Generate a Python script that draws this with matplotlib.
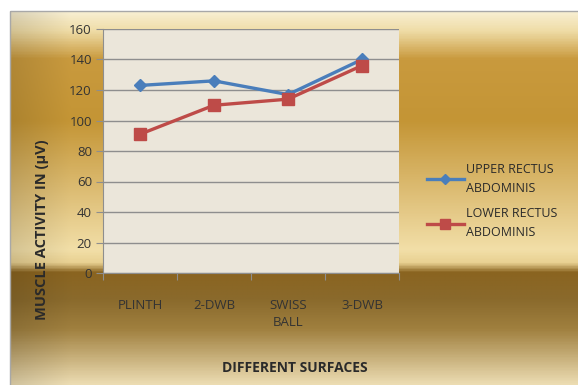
import numpy as np
import matplotlib
matplotlib.use("Agg")
import matplotlib.pyplot as plt
from matplotlib.colors import LinearSegmentedColormap, to_rgb
from matplotlib.patches import Rectangle

surfaces = ["PLINTH", "2-DWB", "SWISS\nBALL", "3-DWB"]
upper_rectus = [123, 126, 117, 140]
lower_rectus = [91, 110, 114, 136]
y_ticks = [0, 20, 40, 60, 80, 100, 120, 140, 160]

plt.rcParams['font.family'] = ['Open Sans', 'DejaVu Sans']

W, H = 578, 385
fig = plt.figure(figsize=(W / 100, H / 100), dpi=100)
fig.patch.set_facecolor("white")

# gold gradient background (chart area) - stops in pixel rows from top
stops = [(11, "#f8efd2"), (30, "#efdca6"), (58, "#c99a3e"), (120, "#c49535"),
         (200, "#e0c27c"), (250, "#f2dfa8"), (263, "#e9d192"), (273, "#8a6420"),
         (300, "#8a6a2c"), (330, "#a0803f"), (385, "#ecdcb2")]
pos = [(y - 11) / (385 - 11) for y, _ in stops]
cmap = LinearSegmentedColormap.from_list("gold", list(zip(pos, [c for _, c in stops])))
bg = fig.add_axes([0, 0, 1, 1], zorder=0)
bg.set_xlim(0, W)
bg.set_ylim(H, 0)
bg.axis("off")
rows = cmap(np.linspace(0, 1, 400))[:, :3]
# a little darker towards the left edge
cols = 1 - 0.12 * np.clip(1 - np.linspace(0, W - 10, 300) / 60, 0, 1)
img = rows[:, None, :] * cols[None, :, None]
bg.imshow(img, aspect="auto", extent=[10, W, H, 11], interpolation="bilinear")
bg.add_patch(Rectangle((10, 11), W, H, fill=False, edgecolor="#a8a8a8", lw=1))

ax = fig.add_axes([103 / W, 1 - 273 / H, (399 - 103) / W, (273 - 29) / H], zorder=1)
ax.set_facecolor("#ebe6da")
x = np.arange(len(surfaces))

for v in y_ticks:
    ax.axhline(v, color="#8e8e8e", lw=1, zorder=1)

ax.plot(x, upper_rectus, color="#4a7ebb", lw=2.4, marker="D", markersize=6,
        label="UPPER RECTUS\nABDOMINIS", zorder=3)
ax.plot(x, lower_rectus, color="#be4b48", lw=2.4, marker="s", markersize=8.5,
        label="LOWER RECTUS\nABDOMINIS", zorder=3)

ax.set_xlim(-0.5, len(surfaces) - 0.5)
ax.set_ylim(0, 160)
ax.set_yticks(y_ticks)
ax.set_xticks(np.arange(-0.5, len(surfaces), 1.0))
ax.set_xticklabels([])
ax.set_xticks(x, minor=True)
ax.set_xticklabels(surfaces, minor=True, fontsize=9.5, color="#333333", linespacing=1.4)
ax.tick_params(axis="x", which="major", length=5, color="#8e8e8e", direction="out")
ax.tick_params(axis="x", which="minor", length=0, pad=19)
ax.tick_params(axis="y", length=5, color="#8e8e8e", labelsize=9.5, labelcolor="#333333", pad=3)

for s in ["top", "right"]:
    ax.spines[s].set_visible(False)
for s in ["left", "bottom"]:
    ax.spines[s].set_color("#8e8e8e")

fig.text(42 / W, 1 - 230 / H, "MUSCLE ACTIVITY IN (µV)", rotation=90, ha="center",
         va="center", fontsize=10.5, fontweight="bold", color="#2a2a2a")
fig.text(295 / W, 1 - 368 / H, "DIFFERENT SURFACES", ha="center", va="center",
         fontsize=10, fontweight="bold", color="#2a2a2a")

leg = fig.legend(loc="center left", bbox_to_anchor=(416 / W, 1 - 201 / H), frameon=False,
                 fontsize=9, handlelength=2.9, handletextpad=0.2, labelspacing=1.0,
                 markerscale=0.8)
for t in leg.get_texts():
    t.set_color("#2a2a2a")
    t.set_linespacing(1.6)

fig.savefig("out.png", dpi=100)
